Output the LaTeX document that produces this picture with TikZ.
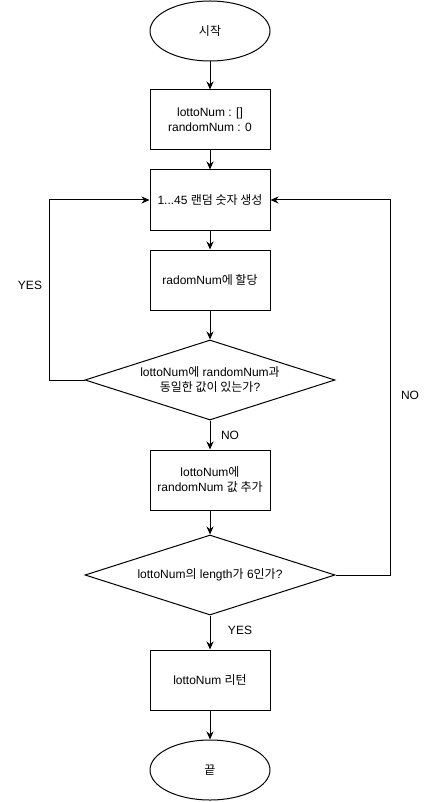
\documentclass[tikz,border=0pt]{standalone}
\usepackage{fontspec}
\setmainfont{Liberation Sans}
\newfontfamily\kr{Noto Sans CJK KR}
\usepackage{tikz}
\usetikzlibrary{arrows.meta,shapes.geometric}

\tikzset{
  base/.style={draw, line width=1pt, font=\fontsize{12}{15}\selectfont, align=center, inner sep=0pt},
  term/.style={base, ellipse, minimum width=120pt, minimum height=60pt},
  proc/.style={base, rectangle, minimum width=120pt, minimum height=60pt},
  cond/.style={base, diamond, aspect=3.125, minimum width=250pt, minimum height=80pt},
  arr/.style={line width=1pt, -{Stealth[length=8pt,width=7pt]}},
  lbl/.style={font=\fontsize{12}{15}\selectfont, inner sep=0pt}
}

\begin{document}
\begin{tikzpicture}[x=1pt,y=-1pt]
\useasboundingbox (0,0) rectangle (440,802);
% nodes
\node[term] (start) at (210,31) {\kr 시작};
\node[proc] (init) at (210,120) {lottoNum : []\\randomNum : 0};
\node[proc] (gen) at (210,200) {1...45 {\kr 랜덤 숫자 생성}};
\node[proc] (assign) at (210,280) {radomNum{\kr 에 할당}};
\node[cond] (dup) at (210,380) {lottoNum{\kr 에} randomNum{\kr 과}\\{\kr 동일한 값이 있는가}?};
\node[proc] (push) at (210,480) {lottoNum{\kr 에}\\randomNum {\kr 값 추가}};
\node[cond] (len) at (210,575) {lottoNum{\kr 의} length{\kr 가} 6{\kr 인가}?};
\node[proc] (ret) at (210,680) {lottoNum {\kr 리턴}};
\node[term] (stop) at (210,770) {\kr 끝};
% arrows
\draw[arr] (start) -- (init);
\draw[arr] (init) -- (gen);
\draw[arr] (gen) -- (assign);
\draw[arr] (assign) -- (dup);
\draw[arr] (dup) -- (push);
\draw[arr] (push) -- (len);
\draw[arr] (len) -- (ret);
\draw[arr] (ret) -- (stop);
% loops
\draw[arr] (dup.west) -- ++(-35,0) |- (gen.west);
\draw[arr] (len.east) -- ++(55,0) |- (gen.east);
% labels
\node[lbl] (yes1) at (30,285) {YES};
\node[lbl] (no1) at (410,395) {NO};
\node[lbl] (no2) at (230,435) {NO};
\node[lbl] (yes2) at (240,630) {YES};
\end{tikzpicture}
\end{document}
